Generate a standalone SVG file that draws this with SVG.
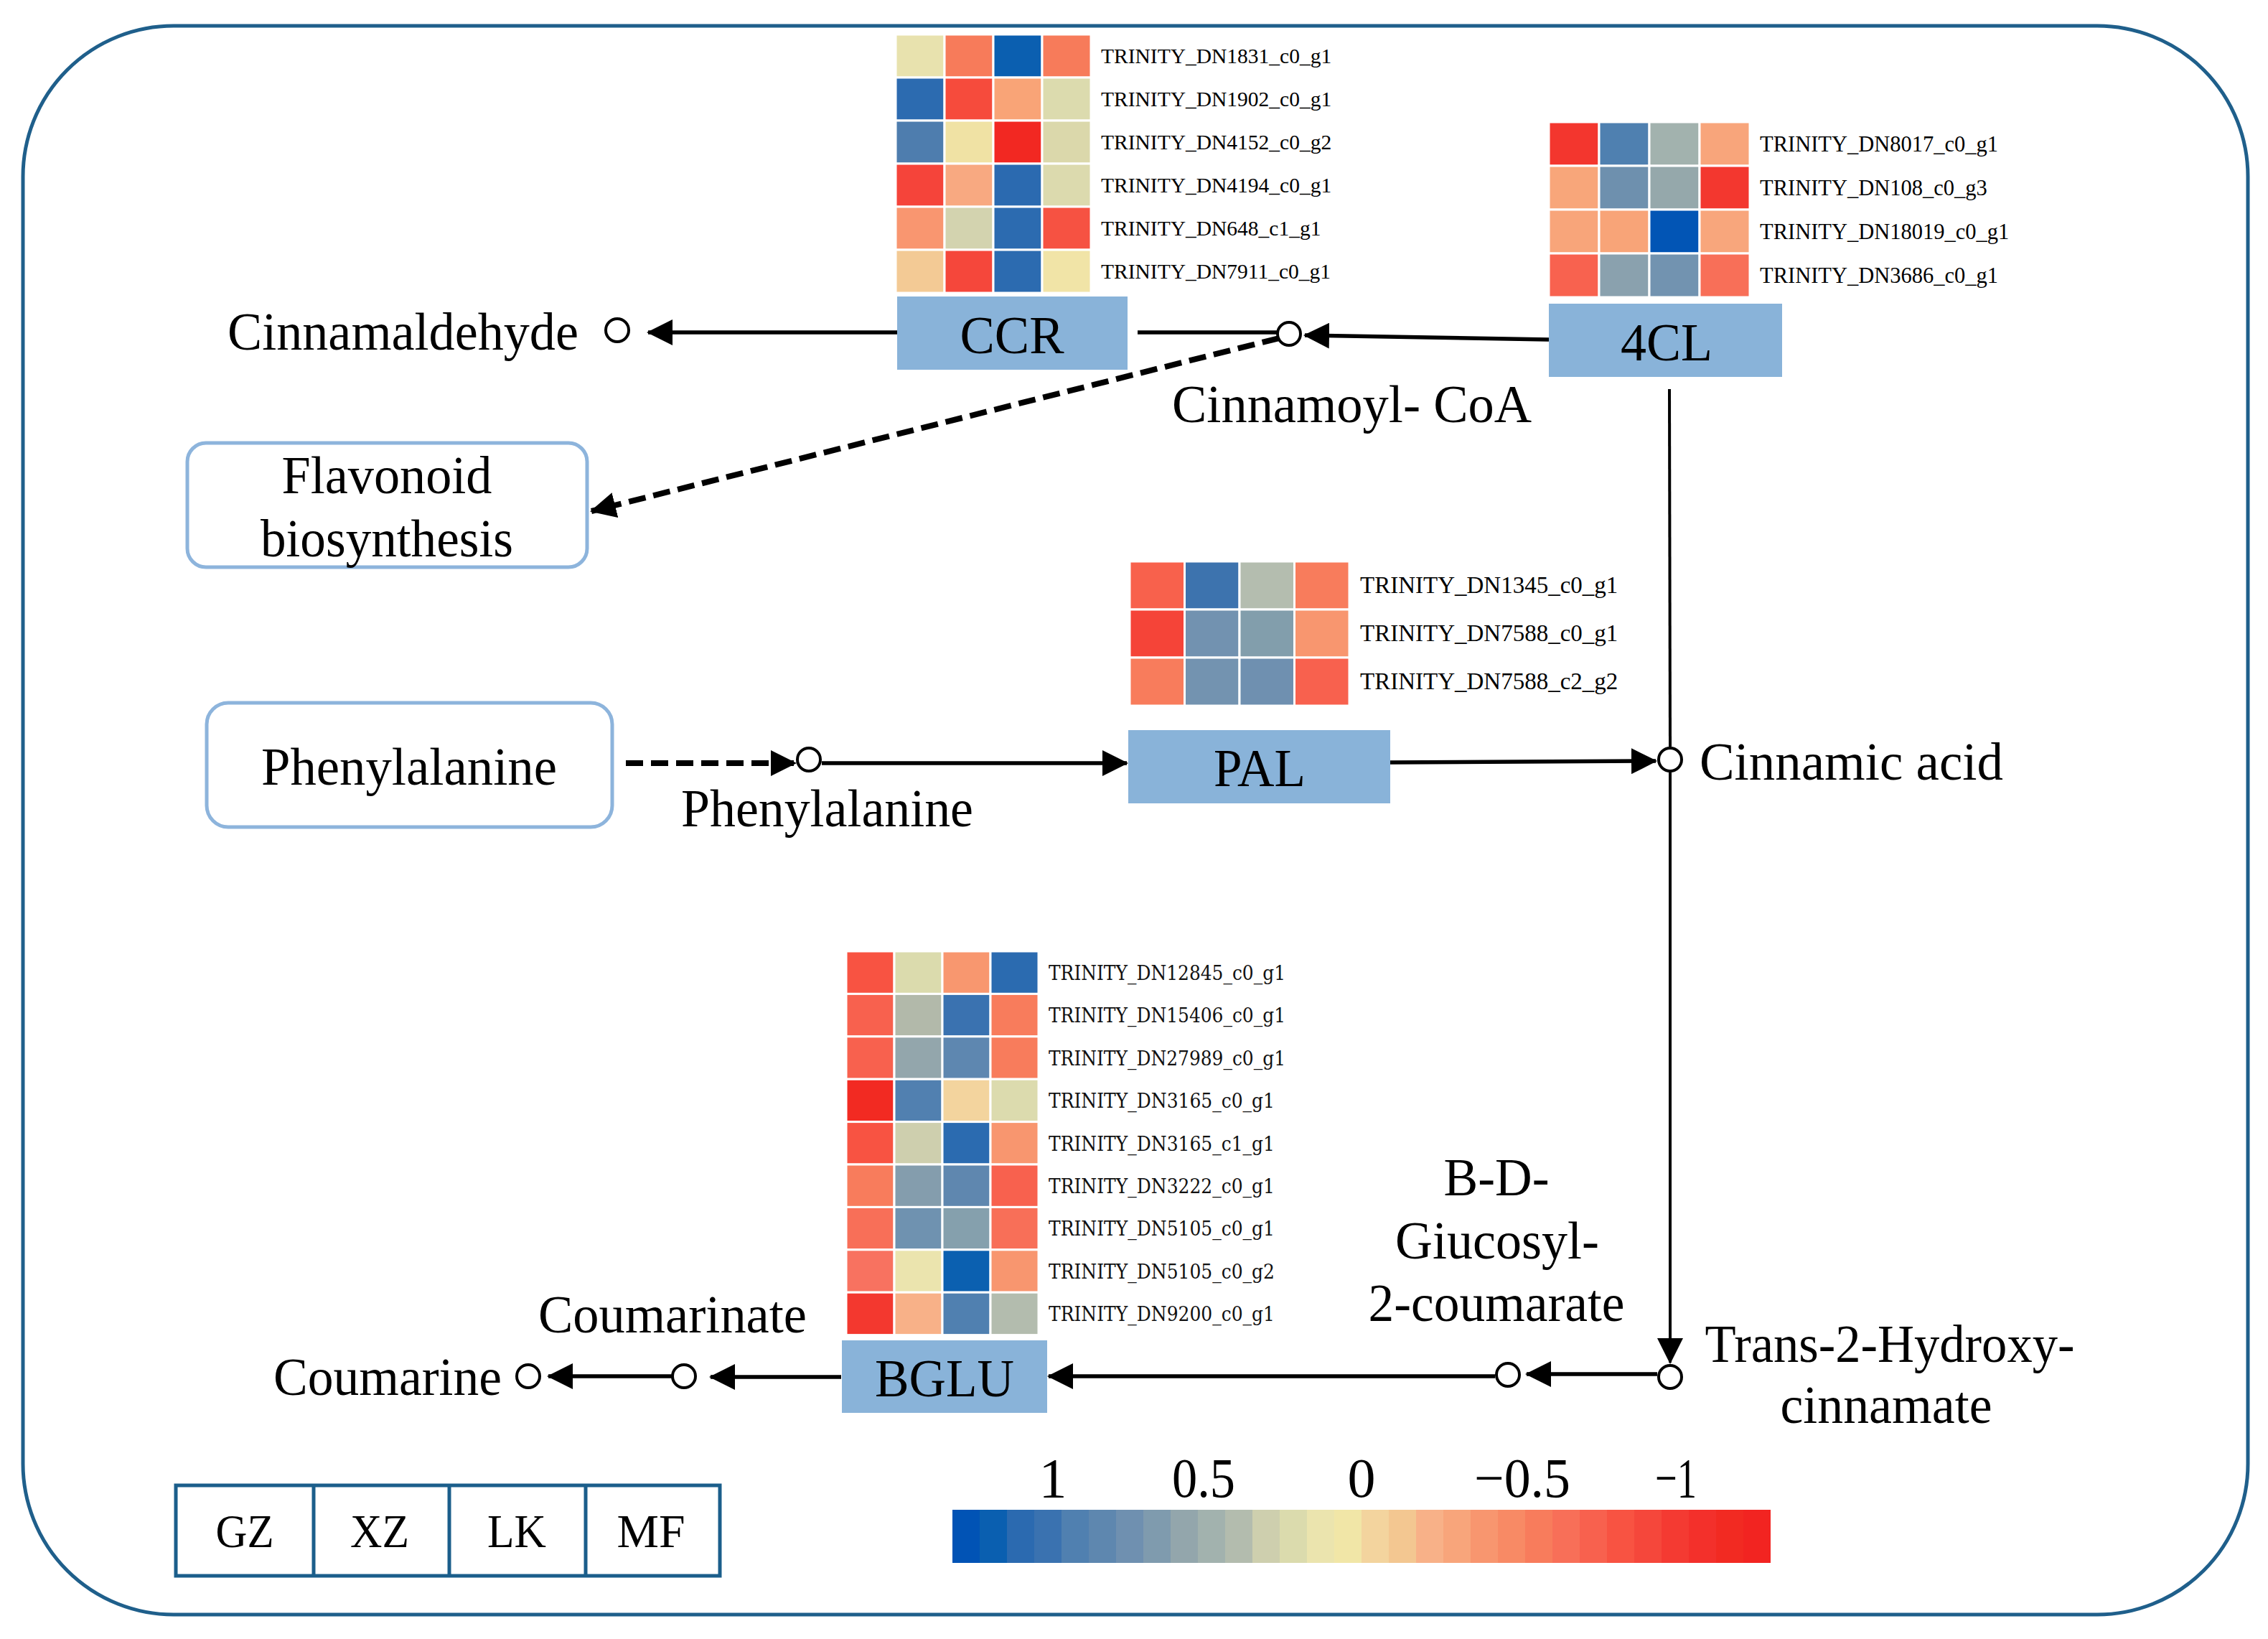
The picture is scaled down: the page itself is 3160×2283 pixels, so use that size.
<svg xmlns="http://www.w3.org/2000/svg" width="3160" height="2283" viewBox="0 0 3160 2283">
<defs>
<style>
.t{font-family:"Liberation Serif","Times New Roman",serif;fill:#000}
.big{font-size:74px}
.lab{font-size:75px}
.gene{font-size:29.5px}
.gene4{font-size:30.5px}
.genep{font-size:33px}
.geneb{font-family:"DejaVu Serif","Liberation Serif",serif;font-size:27px;fill:#111}
.enz{fill:#89B3D9}
.cell{stroke:#fff;stroke-width:3}
.ln{stroke:#000;stroke-width:5.5;fill:none}
.lnv{stroke:#000;stroke-width:4;fill:none}
.dash{stroke:#000;stroke-width:8;fill:none;stroke-dasharray:24 11}
.node{fill:#fff;stroke:#000;stroke-width:4}
.rbox{fill:#fff;stroke:#8DB4DC;stroke-width:5}
.leg{fill:#fff;stroke:#1B5E8B;stroke-width:5}
</style>
<marker id="ah" markerUnits="userSpaceOnUse" viewBox="0 0 36 36" markerWidth="36" markerHeight="36" refX="34" refY="18" orient="auto">
<path d="M0,0 L36,18 L0,36 z" fill="#000"/>
</marker>
</defs>
<rect width="3160" height="2283" fill="#fff"/>
<rect x="32" y="36" width="3100" height="2213" rx="210" ry="210" fill="none" stroke="#1F5F8B" stroke-width="5"/>

<g id="connectors">
<line class="ln" x1="1250" y1="463" x2="903" y2="463" marker-end="url(#ah)"/>
<line class="ln" x1="1585" y1="463" x2="1779" y2="463"/>
<line class="ln" x1="2158" y1="473" x2="1818" y2="467" marker-end="url(#ah)"/>
<line class="dash" x1="1782" y1="471" x2="824" y2="712" marker-end="url(#ah)"/>
<line class="lnv" x1="2326" y1="542" x2="2327" y2="1040"/>
<line class="dash" x1="872" y1="1063" x2="1108" y2="1063" marker-end="url(#ah)"/>
<line class="ln" x1="1145" y1="1063" x2="1570" y2="1063" marker-end="url(#ah)"/>
<line class="ln" x1="1937" y1="1062" x2="2307" y2="1060" marker-end="url(#ah)"/>
<line class="lnv" x1="2327" y1="1075" x2="2327" y2="1898" marker-end="url(#ah)"/>
<line class="ln" x1="2309" y1="1914" x2="2127" y2="1914" marker-end="url(#ah)"/>
<line class="ln" x1="2083" y1="1917" x2="1461" y2="1917" marker-end="url(#ah)"/>
<line class="ln" x1="1172" y1="1918" x2="990" y2="1918" marker-end="url(#ah)"/>
<line class="ln" x1="936" y1="1917" x2="764" y2="1917" marker-end="url(#ah)"/>
</g>

<g id="cinnamaldehyde">
<circle class="node" cx="860" cy="460" r="16"/>
<text class="t lab" x="317" y="487" textLength="489" lengthAdjust="spacingAndGlyphs">Cinnamaldehyde</text>
</g>

<g id="cinnamoyl-coa">
<circle class="node" cx="1796" cy="465" r="16"/>
<text class="t lab" x="1633" y="588" textLength="501" lengthAdjust="spacingAndGlyphs">Cinnamoyl- CoA</text>
</g>

<g id="flavonoid">
<rect class="rbox" x="261" y="617" width="557" height="173" rx="26"/>
<text class="t lab" x="539" y="687" text-anchor="middle" textLength="293" lengthAdjust="spacingAndGlyphs">Flavonoid</text>
<text class="t lab" x="539" y="775" text-anchor="middle" textLength="352" lengthAdjust="spacingAndGlyphs">biosynthesis</text>
</g>

<g id="phenylalanine-box">
<rect class="rbox" x="288" y="979" width="565" height="173" rx="30"/>
<text class="t lab" x="570" y="1093" text-anchor="middle" textLength="412" lengthAdjust="spacingAndGlyphs">Phenylalanine</text>
</g>

<g id="phenylalanine">
<circle class="node" cx="1127" cy="1058" r="16"/>
<text class="t lab" x="949" y="1151" textLength="407" lengthAdjust="spacingAndGlyphs">Phenylalanine</text>
</g>

<g id="cinnamic-acid">
<circle class="node" cx="2327" cy="1058" r="16"/>
<text class="t lab" x="2368" y="1086" textLength="423" lengthAdjust="spacingAndGlyphs">Cinnamic acid</text>
</g>

<g id="trans-2-hydroxycinnamate">
<circle class="node" cx="2327" cy="1918" r="16"/>
<text class="t lab" x="2633" y="1897" text-anchor="middle" textLength="515" lengthAdjust="spacingAndGlyphs">Trans-2-Hydroxy-</text>
<text class="t lab" x="2628" y="1982" text-anchor="middle" textLength="295" lengthAdjust="spacingAndGlyphs">cinnamate</text>
</g>

<g id="bd-glucosyl">
<circle class="node" cx="2101" cy="1915" r="16"/>
<text class="t lab" x="2085" y="1665" text-anchor="middle" textLength="147" lengthAdjust="spacingAndGlyphs">B-D-</text>
<text class="t lab" x="2086" y="1753" text-anchor="middle" textLength="284" lengthAdjust="spacingAndGlyphs">Giucosyl-</text>
<text class="t lab" x="2085" y="1840" text-anchor="middle" textLength="357" lengthAdjust="spacingAndGlyphs">2-coumarate</text>
</g>

<g id="coumarinate">
<circle class="node" cx="953" cy="1917" r="16"/>
<text class="t lab" x="750" y="1856" textLength="374" lengthAdjust="spacingAndGlyphs">Coumarinate</text>
</g>

<g id="coumarine">
<circle class="node" cx="736" cy="1917" r="16"/>
<text class="t lab" x="381" y="1943" textLength="318" lengthAdjust="spacingAndGlyphs">Coumarine</text>
</g>

<g id="ccr">
<g class="cell">
<rect x="1248" y="48" width="68" height="60" fill="#E8E2AE"/><rect x="1316" y="48" width="68" height="60" fill="#F77B5A"/><rect x="1384" y="48" width="68" height="60" fill="#0B5FB0"/><rect x="1452" y="48" width="68" height="60" fill="#F77B5A"/>
<rect x="1248" y="108" width="68" height="60" fill="#2C6BB0"/><rect x="1316" y="108" width="68" height="60" fill="#F64B3C"/><rect x="1384" y="108" width="68" height="60" fill="#F9A477"/><rect x="1452" y="108" width="68" height="60" fill="#DCDBAE"/>
<rect x="1248" y="168" width="68" height="60" fill="#4E7DAE"/><rect x="1316" y="168" width="68" height="60" fill="#F0E2A4"/><rect x="1384" y="168" width="68" height="60" fill="#F22822"/><rect x="1452" y="168" width="68" height="60" fill="#DBD8AB"/>
<rect x="1248" y="228" width="68" height="60" fill="#F5443A"/><rect x="1316" y="228" width="68" height="60" fill="#F8A981"/><rect x="1384" y="228" width="68" height="60" fill="#2B6AB0"/><rect x="1452" y="228" width="68" height="60" fill="#DCDAAE"/>
<rect x="1248" y="288" width="68" height="60" fill="#F99670"/><rect x="1316" y="288" width="68" height="60" fill="#D3D3AF"/><rect x="1384" y="288" width="68" height="60" fill="#2C6BB0"/><rect x="1452" y="288" width="68" height="60" fill="#F65242"/>
<rect x="1248" y="348" width="68" height="60" fill="#F3CA95"/><rect x="1316" y="348" width="68" height="60" fill="#F5473B"/><rect x="1384" y="348" width="68" height="60" fill="#2C6BB0"/><rect x="1452" y="348" width="68" height="60" fill="#F1E4A7"/>
</g>
<text class="t gene" x="1534" y="88">TRINITY_DN1831_c0_g1</text>
<text class="t gene" x="1534" y="148">TRINITY_DN1902_c0_g1</text>
<text class="t gene" x="1534" y="208">TRINITY_DN4152_c0_g2</text>
<text class="t gene" x="1534" y="268">TRINITY_DN4194_c0_g1</text>
<text class="t gene" x="1534" y="328">TRINITY_DN648_c1_g1</text>
<text class="t gene" x="1534" y="388">TRINITY_DN7911_c0_g1</text>
<rect class="enz" x="1250" y="413" width="321" height="102"/>
<text class="t big" x="1410" y="492" text-anchor="middle" textLength="145" lengthAdjust="spacingAndGlyphs">CCR</text>
</g>

<g id="4cl">
<g class="cell">
<rect x="2158" y="170" width="70" height="61" fill="#F3362E"/><rect x="2228" y="170" width="70" height="61" fill="#4F80B0"/><rect x="2298" y="170" width="70" height="61" fill="#A2B2AE"/><rect x="2368" y="170" width="70" height="61" fill="#F8A57B"/>
<rect x="2158" y="231" width="70" height="61" fill="#F8A67A"/><rect x="2228" y="231" width="70" height="61" fill="#6E90AE"/><rect x="2298" y="231" width="70" height="61" fill="#95A8AB"/><rect x="2368" y="231" width="70" height="61" fill="#F3372F"/>
<rect x="2158" y="292" width="70" height="61" fill="#F8A57A"/><rect x="2228" y="292" width="70" height="61" fill="#F8A478"/><rect x="2298" y="292" width="70" height="61" fill="#0255B5"/><rect x="2368" y="292" width="70" height="61" fill="#F8A67C"/>
<rect x="2158" y="353" width="70" height="61" fill="#F8624F"/><rect x="2228" y="353" width="70" height="61" fill="#8AA1AE"/><rect x="2298" y="353" width="70" height="61" fill="#7293B0"/><rect x="2368" y="353" width="70" height="61" fill="#F86F58"/>
</g>
<text class="t gene4" x="2452" y="211">TRINITY_DN8017_c0_g1</text>
<text class="t gene4" x="2452" y="272">TRINITY_DN108_c0_g3</text>
<text class="t gene4" x="2452" y="333">TRINITY_DN18019_c0_g1</text>
<text class="t gene4" x="2452" y="394">TRINITY_DN3686_c0_g1</text>
<rect class="enz" x="2158" y="423" width="325" height="102"/>
<text class="t big" x="2322" y="502" text-anchor="middle" textLength="128" lengthAdjust="spacingAndGlyphs">4CL</text>
</g>

<g id="pal">
<g class="cell">
<rect x="1574" y="782" width="76.5" height="67" fill="#F8614C"/><rect x="1650.5" y="782" width="76.5" height="67" fill="#3D73AE"/><rect x="1727" y="782" width="76.5" height="67" fill="#B4BDAF"/><rect x="1803.5" y="782" width="76.5" height="67" fill="#F87C5C"/>
<rect x="1574" y="849" width="76.5" height="67" fill="#F54438"/><rect x="1650.5" y="849" width="76.5" height="67" fill="#7292B0"/><rect x="1727" y="849" width="76.5" height="67" fill="#829EAC"/><rect x="1803.5" y="849" width="76.5" height="67" fill="#F8966F"/>
<rect x="1574" y="916" width="76.5" height="67" fill="#F87C5C"/><rect x="1650.5" y="916" width="76.5" height="67" fill="#7393B0"/><rect x="1727" y="916" width="76.5" height="67" fill="#6F90B0"/><rect x="1803.5" y="916" width="76.5" height="67" fill="#F8614E"/>
</g>
<text class="t genep" x="1895" y="826">TRINITY_DN1345_c0_g1</text>
<text class="t genep" x="1895" y="893">TRINITY_DN7588_c0_g1</text>
<text class="t genep" x="1895" y="960">TRINITY_DN7588_c2_g2</text>
<rect class="enz" x="1572" y="1017" width="365" height="102"/>
<text class="t big" x="1755" y="1095" text-anchor="middle" textLength="128" lengthAdjust="spacingAndGlyphs">PAL</text>
</g>

<g id="bglu">
<g class="cell">
<rect x="1179" y="1325" width="67" height="59.4" fill="#F85342"/><rect x="1246" y="1325" width="67" height="59.4" fill="#DBDBAD"/><rect x="1313" y="1325" width="67" height="59.4" fill="#F8976F"/><rect x="1380" y="1325" width="67" height="59.4" fill="#2B6BB0"/>
<rect x="1179" y="1384.4" width="67" height="59.4" fill="#F8614E"/><rect x="1246" y="1384.4" width="67" height="59.4" fill="#B2B9AA"/><rect x="1313" y="1384.4" width="67" height="59.4" fill="#3A72B0"/><rect x="1380" y="1384.4" width="67" height="59.4" fill="#F87C5C"/>
<rect x="1179" y="1443.8" width="67" height="59.4" fill="#F8614E"/><rect x="1246" y="1443.8" width="67" height="59.4" fill="#93A6AC"/><rect x="1313" y="1443.8" width="67" height="59.4" fill="#5E87B0"/><rect x="1380" y="1443.8" width="67" height="59.4" fill="#F87C5C"/>
<rect x="1179" y="1503.2" width="67" height="59.4" fill="#F22A22"/><rect x="1246" y="1503.2" width="67" height="59.4" fill="#5180B0"/><rect x="1313" y="1503.2" width="67" height="59.4" fill="#F3D49E"/><rect x="1380" y="1503.2" width="67" height="59.4" fill="#DCDBAE"/>
<rect x="1179" y="1562.6" width="67" height="59.4" fill="#F85342"/><rect x="1246" y="1562.6" width="67" height="59.4" fill="#CECFAE"/><rect x="1313" y="1562.6" width="67" height="59.4" fill="#2B6BB0"/><rect x="1380" y="1562.6" width="67" height="59.4" fill="#F8966F"/>
<rect x="1179" y="1622" width="67" height="59.4" fill="#F87C5C"/><rect x="1246" y="1622" width="67" height="59.4" fill="#849DAD"/><rect x="1313" y="1622" width="67" height="59.4" fill="#5F87AF"/><rect x="1380" y="1622" width="67" height="59.4" fill="#F8614E"/>
<rect x="1179" y="1681.4" width="67" height="59.4" fill="#F86F58"/><rect x="1246" y="1681.4" width="67" height="59.4" fill="#6F92B0"/><rect x="1313" y="1681.4" width="67" height="59.4" fill="#85A0AD"/><rect x="1380" y="1681.4" width="67" height="59.4" fill="#F86F58"/>
<rect x="1179" y="1740.8" width="67" height="59.4" fill="#F87260"/><rect x="1246" y="1740.8" width="67" height="59.4" fill="#EBE4AE"/><rect x="1313" y="1740.8" width="67" height="59.4" fill="#0B60B0"/><rect x="1380" y="1740.8" width="67" height="59.4" fill="#F8966F"/>
<rect x="1179" y="1800.2" width="67" height="59.4" fill="#F3382F"/><rect x="1246" y="1800.2" width="67" height="59.4" fill="#F8B188"/><rect x="1313" y="1800.2" width="67" height="59.4" fill="#5080B0"/><rect x="1380" y="1800.2" width="67" height="59.4" fill="#B3BCAE"/>
</g>
<text class="geneb" x="1461" y="1365" textLength="330" lengthAdjust="spacingAndGlyphs">TRINITY_DN12845_c0_g1</text>
<text class="geneb" x="1461" y="1424" textLength="330" lengthAdjust="spacingAndGlyphs">TRINITY_DN15406_c0_g1</text>
<text class="geneb" x="1461" y="1484" textLength="330" lengthAdjust="spacingAndGlyphs">TRINITY_DN27989_c0_g1</text>
<text class="geneb" x="1461" y="1543" textLength="315" lengthAdjust="spacingAndGlyphs">TRINITY_DN3165_c0_g1</text>
<text class="geneb" x="1461" y="1603" textLength="315" lengthAdjust="spacingAndGlyphs">TRINITY_DN3165_c1_g1</text>
<text class="geneb" x="1461" y="1662" textLength="315" lengthAdjust="spacingAndGlyphs">TRINITY_DN3222_c0_g1</text>
<text class="geneb" x="1461" y="1721" textLength="315" lengthAdjust="spacingAndGlyphs">TRINITY_DN5105_c0_g1</text>
<text class="geneb" x="1461" y="1781" textLength="315" lengthAdjust="spacingAndGlyphs">TRINITY_DN5105_c0_g2</text>
<text class="geneb" x="1461" y="1840" textLength="315" lengthAdjust="spacingAndGlyphs">TRINITY_DN9200_c0_g1</text>
<rect class="enz" x="1173" y="1867" width="286" height="101"/>
<text class="t big" x="1316" y="1945" text-anchor="middle" textLength="194" lengthAdjust="spacingAndGlyphs">BGLU</text>
</g>

<g id="sample-legend">
<rect class="leg" x="245" y="2069" width="758" height="126"/>
<line x1="437" y1="2069" x2="437" y2="2195" stroke="#1B5E8B" stroke-width="5"/>
<line x1="626" y1="2069" x2="626" y2="2195" stroke="#1B5E8B" stroke-width="5"/>
<line x1="816" y1="2069" x2="816" y2="2195" stroke="#1B5E8B" stroke-width="5"/>
<text class="t" font-size="66" x="341" y="2155" text-anchor="middle" textLength="81" lengthAdjust="spacingAndGlyphs">GZ</text>
<text class="t" font-size="66" x="529" y="2155" text-anchor="middle" textLength="82" lengthAdjust="spacingAndGlyphs">XZ</text>
<text class="t" font-size="66" x="720" y="2155" text-anchor="middle" textLength="82" lengthAdjust="spacingAndGlyphs">LK</text>
<text class="t" font-size="66" x="907" y="2155" text-anchor="middle" textLength="95" lengthAdjust="spacingAndGlyphs">MF</text>
</g>

<g id="color-scale">
<rect x="1327" y="2103" width="39" height="74" fill="#0153B5"/>
<rect x="1365" y="2103" width="39" height="74" fill="#0A5FB0"/>
<rect x="1403" y="2103" width="39" height="74" fill="#2B6AB0"/>
<rect x="1441" y="2103" width="39" height="74" fill="#3A72B0"/>
<rect x="1479" y="2103" width="39" height="74" fill="#5080B0"/>
<rect x="1517" y="2103" width="39" height="74" fill="#5E87AF"/>
<rect x="1555" y="2103" width="39" height="74" fill="#6F90B0"/>
<rect x="1593" y="2103" width="39" height="74" fill="#7F9BAE"/>
<rect x="1631" y="2103" width="39" height="74" fill="#93A6AC"/>
<rect x="1669" y="2103" width="39" height="74" fill="#A2B2AE"/>
<rect x="1707" y="2103" width="39" height="74" fill="#B3BCAE"/>
<rect x="1745" y="2103" width="39" height="74" fill="#CECFAE"/>
<rect x="1783" y="2103" width="39" height="74" fill="#DBDBAD"/>
<rect x="1821" y="2103" width="39" height="74" fill="#EBE4AE"/>
<rect x="1859" y="2103" width="39" height="74" fill="#F1E6A7"/>
<rect x="1897" y="2103" width="39" height="74" fill="#F3D49E"/>
<rect x="1935" y="2103" width="39" height="74" fill="#F3C791"/>
<rect x="1973" y="2103" width="39" height="74" fill="#F8B188"/>
<rect x="2011" y="2103" width="39" height="74" fill="#F8A57B"/>
<rect x="2049" y="2103" width="39" height="74" fill="#F8966F"/>
<rect x="2087" y="2103" width="39" height="74" fill="#F88A65"/>
<rect x="2125" y="2103" width="39" height="74" fill="#F87C5C"/>
<rect x="2163" y="2103" width="39" height="74" fill="#F86F58"/>
<rect x="2201" y="2103" width="39" height="74" fill="#F8614E"/>
<rect x="2239" y="2103" width="39" height="74" fill="#F85342"/>
<rect x="2277" y="2103" width="39" height="74" fill="#F5473B"/>
<rect x="2315" y="2103" width="39" height="74" fill="#F43A32"/>
<rect x="2353" y="2103" width="39" height="74" fill="#F3302B"/>
<rect x="2391" y="2103" width="39" height="74" fill="#F22A22"/>
<rect x="2429" y="2103" width="38" height="74" fill="#F22421"/>
<text class="t" font-size="78" x="1467" y="2085" text-anchor="middle">1</text>
<text class="t" font-size="78" x="1677" y="2085" text-anchor="middle" textLength="88" lengthAdjust="spacingAndGlyphs">0.5</text>
<text class="t" font-size="78" x="1897" y="2085" text-anchor="middle">0</text>
<text class="t" font-size="78" x="2121" y="2085" text-anchor="middle" textLength="134" lengthAdjust="spacingAndGlyphs">−0.5</text>
<text class="t" font-size="78" x="2335" y="2085" text-anchor="middle" textLength="58" lengthAdjust="spacingAndGlyphs">−1</text>
</g>
</svg>
